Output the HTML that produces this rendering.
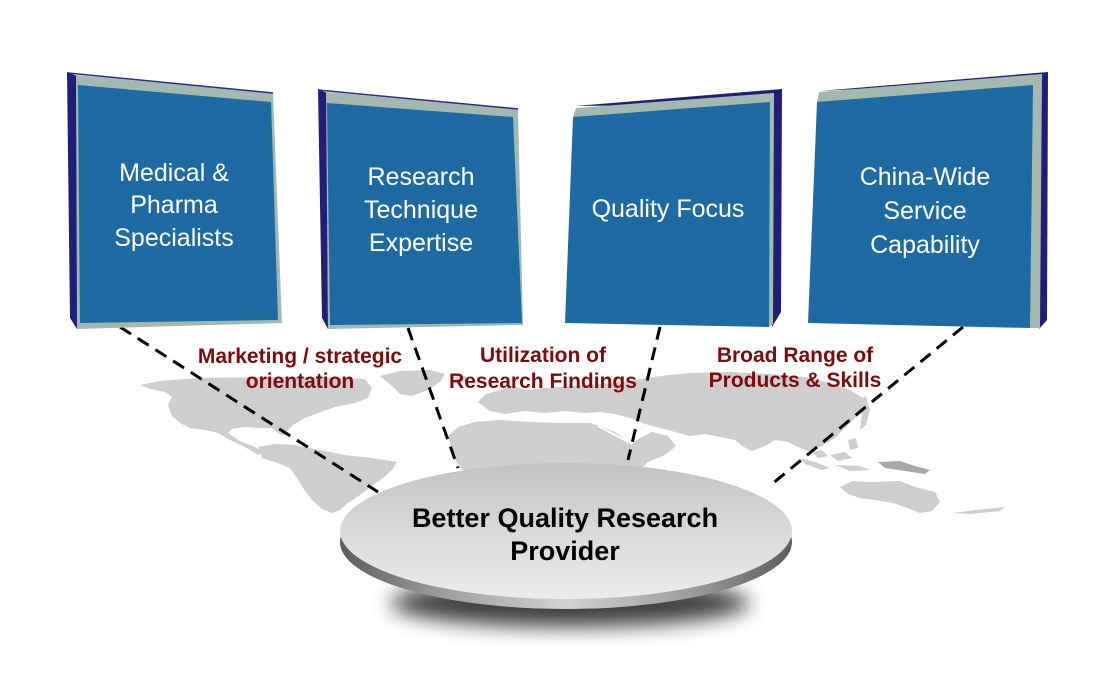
<!DOCTYPE html>
<html>
<head>
<meta charset="utf-8">
<style>
  html,body{margin:0;padding:0;background:#fff;}
  svg{display:block;}
  .bx{font-family:"Liberation Sans",Arial,sans-serif;font-size:25px;fill:#ffffff;text-anchor:middle;}
  .lb{font-family:"Liberation Sans",Arial,sans-serif;font-size:21px;font-weight:bold;fill:#800a0a;text-anchor:middle;}
  .el{font-family:"Liberation Sans",Arial,sans-serif;font-size:27px;font-weight:bold;fill:#000;text-anchor:middle;}
</style>
</head>
<body>
<svg width="1095" height="699" viewBox="0 0 1095 699" xmlns="http://www.w3.org/2000/svg">
  <defs>
    <linearGradient id="topg" x1="0" y1="0" x2="0" y2="1">
      <stop offset="0" stop-color="#c2c2c2"/>
      <stop offset="0.5" stop-color="#d9d9d9"/>
      <stop offset="1" stop-color="#ececec"/>
    </linearGradient>
    <linearGradient id="rimg" x1="0" y1="0" x2="1" y2="0">
      <stop offset="0" stop-color="#5c5c5c"/>
      <stop offset="0.22" stop-color="#9c9c9c"/>
      <stop offset="0.5" stop-color="#d2d2d2"/>
      <stop offset="0.78" stop-color="#9c9c9c"/>
      <stop offset="1" stop-color="#5c5c5c"/>
    </linearGradient>
    <filter id="blur" x="-30%" y="-100%" width="160%" height="300%">
      <feGaussianBlur stdDeviation="10"/>
    </filter>
  </defs>

  <!-- World map -->
  <g fill="#cecece">
    <path d="M140,385 L160,381 L200,378 L260,377 L320,377 L365,379 L372,388 L368,398 L355,403 L335,407 L318,413 L305,418 L293,425 L283,436 L277,432 L272,428 L258,428 L245,427 L232,429 L228,433 L240,441 L255,447 L262,452 L258,455 L245,447 L230,440 L218,433 L205,430 L190,428 L180,423 L172,416 L168,405 L172,397 L165,392 L150,389 Z"/>
    <path d="M380,376 L400,371 L430,370 L445,374 L440,382 L428,390 L412,396 L400,394 L392,386 Z"/>
    <path d="M455,378 L465,376 L468,381 L458,383 Z"/>
    <path d="M258,447 L275,444 L295,445 L320,450 L345,455 L372,458 L397,462 L392,470 L383,478 L370,487 L360,495 L348,503 L340,510 L332,513 L322,509 L312,500 L303,488 L297,478 L290,468 L275,462 L262,458 Z"/>
    <path d="M478,402 L486,394 L500,390 L512,386 L528,390 L545,388 L570,386 L600,384 L630,381 L660,376 L690,373 L730,372 L770,374 L805,377 L830,383 L850,390 L866,400 L866,410 L855,418 L845,428 L835,438 L822,446 L808,451 L798,447 L788,442 L775,440 L765,446 L752,451 L742,446 L735,440 L720,437 L705,434 L690,436 L675,432 L660,428 L645,424 L630,418 L615,414 L600,412 L585,413 L565,411 L545,413 L525,411 L505,414 L490,411 Z"/>
    <path d="M448,436 L458,427 L475,422 L500,420 L530,422 L560,423 L590,423 L600,426 L615,432 L632,444 L640,438 L652,432 L668,436 L676,446 L665,455 L648,462 L640,470 L470,480 L455,460 Z"/>
    <path d="M858,400 L866,396 L870,410 L866,425 L860,430 L862,415 Z"/>
    <path d="M812,452 L822,450 L828,456 L818,458 Z"/>
    <path d="M830,455 L845,452 L852,458 L838,461 Z"/>
    <path d="M800,458 L815,462 L830,468 L822,470 L805,464 Z"/>
    <path d="M835,465 L860,466 L870,470 L850,471 Z"/>
    <path d="M848,440 L856,438 L858,448 L850,450 Z"/>
    <path d="M840,487 L853,481 L872,482 L900,481 L915,487 L935,492 L940,502 L932,511 L920,513 L905,507 L893,503 L875,500 L860,498 L848,494 Z"/>
    <path d="M953,513 L975,510 L1005,507 L1000,511 L970,514 Z"/>
  </g>
  <path d="M878,462 L900,461 L915,466 L930,470 L925,474 L905,471 L885,468 Z" fill="#a8a8a8"/>
  <path d="M598,426 L632,444" stroke="#fff" stroke-width="2" fill="none"/>
  <path d="M645,425 L676,434" stroke="#fff" stroke-width="2" fill="none"/>

  <!-- Dashed connectors -->
  <g stroke="#000" stroke-width="3" stroke-dasharray="13 8" fill="none">
    <line x1="120" y1="327" x2="378" y2="492"/>
    <line x1="408" y1="328" x2="458" y2="468"/>
    <line x1="660" y1="327" x2="628" y2="460"/>
    <line x1="963" y1="327" x2="772" y2="484"/>
  </g>

  <!-- Labels -->
  <text class="lb" x="300" y="363">Marketing / strategic</text>
  <text class="lb" x="300" y="388">orientation</text>
  <text class="lb" x="543" y="362">Utilization of</text>
  <text class="lb" x="543" y="388">Research Findings</text>
  <text class="lb" x="795" y="362">Broad Range of</text>
  <text class="lb" x="795" y="387">Products &amp; Skills</text>

  <!-- Ellipse platform -->
  <ellipse cx="570" cy="603" rx="180" ry="24" fill="#000" opacity="0.75" filter="url(#blur)"/>
  <ellipse cx="566" cy="542" rx="226" ry="67" fill="url(#rimg)"/>
  <ellipse cx="566" cy="531" rx="226" ry="68" fill="url(#topg)"/>
  <text class="el" x="565" y="527">Better Quality Research</text>
  <text class="el" x="565" y="560">Provider</text>

  <!-- Box 1 -->
  <polygon points="67,72 77,76 77,329 70,318" fill="#231d7a"/>
  <polygon points="76,75 273,93 282,323 77,329" fill="#a3b9b0"/>
  <line x1="68" y1="73" x2="273" y2="93" stroke="#2a2a8a" stroke-width="1.5"/>
  <polygon points="78,85 271,102 278,320 80,323" fill="#1e6aa2"/>
  <text class="bx" x="174" y="181">Medical &amp;</text>
  <text class="bx" x="174" y="213">Pharma</text>
  <text class="bx" x="174" y="246">Specialists</text>

  <!-- Box 2 -->
  <polygon points="318,89 327,93 328,329 322,318" fill="#231d7a"/>
  <polygon points="326,92 518,109 523,325 328,329" fill="#a3b9b0"/>
  <line x1="318" y1="90" x2="518" y2="109" stroke="#2a2a8a" stroke-width="1.5"/>
  <polygon points="327,103 513,117 522,323 330,325" fill="#1e6aa2"/>
  <text class="bx" x="421" y="185">Research</text>
  <text class="bx" x="421" y="218">Technique</text>
  <text class="bx" x="421" y="251">Expertise</text>

  <!-- Box 3 -->
  <polygon points="575,106 782,89 781,312 772,327 770,104" fill="#231d7a"/>
  <polygon points="576,108 774,93 773,324 769,327 573,117" fill="#a3b9b0"/>
  <polygon points="573,117 770,102 769,327 565,323" fill="#1e6aa2"/>
  <text class="bx" x="668" y="217">Quality Focus</text>

  <!-- Box 4 -->
  <polygon points="819,91 1048,72 1047,320 1039,329 1038,80" fill="#231d7a"/>
  <polygon points="819,92 1042,74 1040,328 1030,328 817,102" fill="#a3b9b0"/>
  <polygon points="817,102 1033,85 1030,328 808,323" fill="#1e6aa2"/>
  <text class="bx" x="925" y="185">China-Wide</text>
  <text class="bx" x="925" y="219">Service</text>
  <text class="bx" x="925" y="253">Capability</text>
</svg>
</body>
</html>
